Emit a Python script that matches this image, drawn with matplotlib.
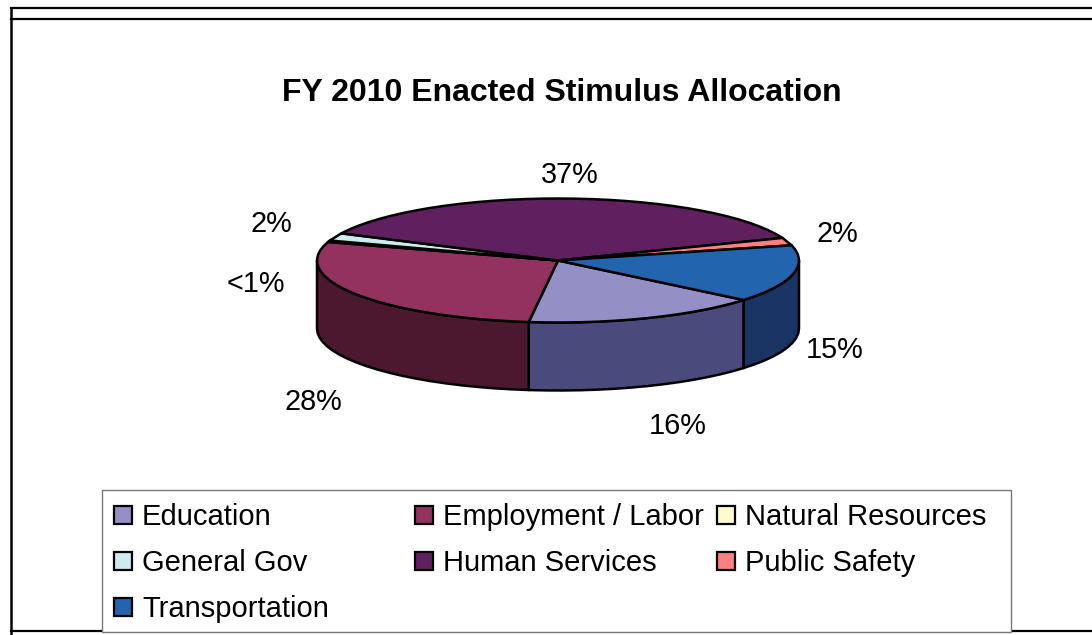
import numpy as np
import matplotlib
matplotlib.use('Agg')
import matplotlib.pyplot as plt
from matplotlib.patches import Rectangle

plt.rcParams['font.family'] = ['Liberation Sans', 'DejaVu Sans']

# Slice data, in the clockwise order of the pie
categories = ['Education', 'Employment / Labor', 'Natural Resources', 'General Gov',
              'Human Services', 'Public Safety', 'Transportation']
shares = [16, 28, 0.4, 2, 37, 2, 15]
value_labels = ['16%', '28%', '<1%', '2%', '37%', '2%', '15%']

top_colors = ['#9490C6', '#93325F', '#FFFBCC', '#CCECF0', '#601F5F', '#FF8080', '#2364AE']
side_colors = ['#4B4A7C', '#4C1830', '#807D66', '#667678', '#300F30', '#804040', '#1A3464']

# Layout in pixels, y going down
cx, cy = 558, 260.5
rx, ry = 241, 62
depth = 68
start_angle = 129.6
label_pos = [(678, 426), (313, 402), (256, 284), (271, 224), (570, 175), (837, 234), (835, 350)]


def arc(a0, a1, dy=0.0, step=4.0):
    # Points along the rim, angle measured clockwise from the top of the ellipse
    n = max(int(abs(a1 - a0) / step), 1) + 1
    t = np.radians(np.linspace(a0, a1, n))
    return cx + rx * np.sin(t), cy - ry * np.cos(t) + dy


fig = plt.figure(figsize=(10.92, 6.35), dpi=100)
ax = fig.add_axes([0, 0, 1, 1])
ax.set_xlim(0, 1092)
ax.set_ylim(635, 0)
ax.axis('off')

# Outer frame lines
ax.plot([10.5, 10.5], [8, 635], color='black', lw=1.8)
for y in (8, 18.5, 630.5):
    ax.plot([10.5, 1092], [y, y], color='black', lw=1.6)

sweeps = 360 * np.array(shares) / sum(shares)
edges = start_angle + np.concatenate([[0], np.cumsum(sweeps)])

# Side walls, only the front half of the rim is visible
for i in range(len(shares)):
    # slices past a full turn come back round to the right-hand side
    turn = 360 if edges[i] >= 360 else 0
    a0, a1 = max(edges[i] - turn, 90), min(edges[i + 1] - turn, 270)
    if a1 <= a0:
        continue
    x_top, y_top = arc(a0, a1)
    x_bot, y_bot = arc(a1, a0, dy=depth)
    ax.fill(np.r_[x_top, x_bot], np.r_[y_top, y_bot], facecolor=side_colors[i],
            edgecolor='black', lw=1.8, joinstyle='round', zorder=2)

# Top faces
for i in range(len(shares)):
    x_rim, y_rim = arc(edges[i], edges[i + 1])
    ax.fill(np.r_[cx, x_rim], np.r_[cy, y_rim], facecolor=top_colors[i],
            edgecolor='black', lw=1.8, joinstyle='round', zorder=3)

ax.text(562, 93, 'FY 2010 Enacted Stimulus Allocation', ha='center', va='center',
        fontsize=23, fontweight='bold', color='black')

for txt, (x, y) in zip(value_labels, label_pos):
    ax.text(x, y, txt, ha='center', va='center', fontsize=20.8, color='black')

# Legend box, three columns
ax.add_patch(Rectangle((102, 490), 909, 142, facecolor='white', edgecolor='#777777',
                       lw=1.0, zorder=5))
legend_x = [114, 415, 717]
legend_y = [515, 561, 607]
for i, name in enumerate(categories):
    col, row = i % 3, i // 3
    ax.add_patch(Rectangle((legend_x[col], legend_y[row] - 9), 18, 18, facecolor=top_colors[i],
                           edgecolor='black', lw=1.6, zorder=6))
    ax.text(legend_x[col] + 28, legend_y[row] - 1, name, ha='left', va='center_baseline',
            fontsize=21, color='black', zorder=6)

fig.savefig('out.png', dpi=100)
